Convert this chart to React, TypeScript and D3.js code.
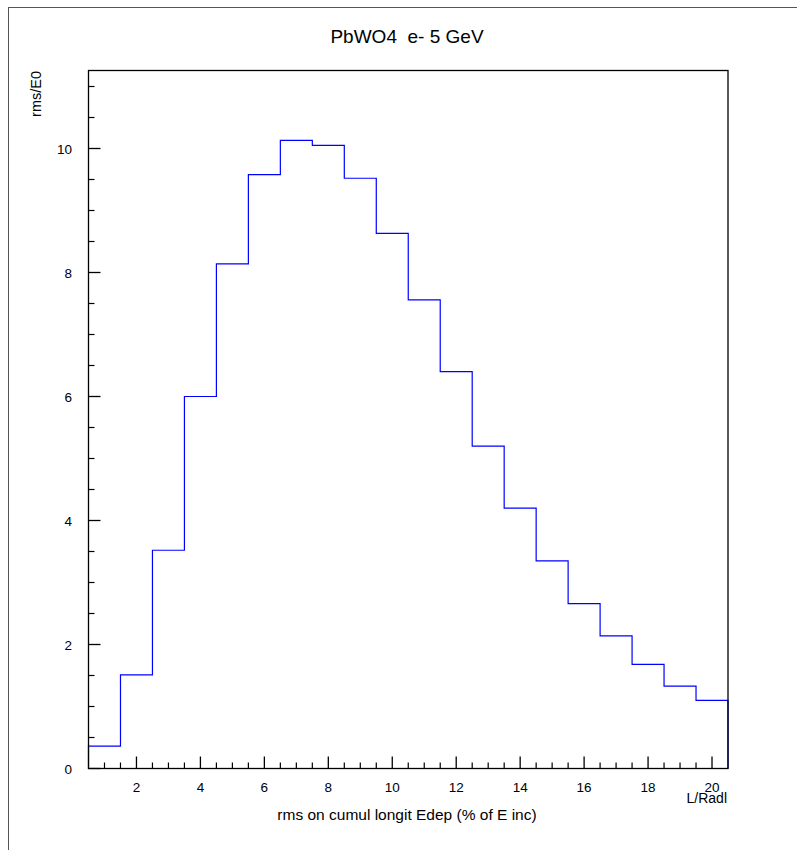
import React from "react";
import * as d3 from "d3";

const binCenters = [1, 2, 3, 4, 5, 6, 7, 8, 9, 10, 11, 12, 13, 14, 15, 16, 17, 18, 19, 20];
const binValues = [0.36, 1.51, 3.52, 6.0, 8.14, 9.58, 10.13, 10.05, 9.52, 8.63, 7.56, 6.4, 5.2, 4.2, 3.35, 2.66, 2.14, 1.68, 1.33, 1.1];
const xMajorTicks = [2, 4, 6, 8, 10, 12, 14, 16, 18, 20];
const yMajorTicks = [0, 2, 4, 6, 8, 10];
const title = "PbWO4  e- 5 GeV";
const xTitle = "rms on cumul longit Edep (% of E inc)";
const xUnit = "L/Radl";
const yTitle = "rms/E0";

export default function App() {
  const W = 797, H = 850;
  const left = 88.5, right = 728, top = 70.5, bottom = 768.5;
  const x = d3.scaleLinear().domain([0.5, 20.5]).range([left, right]);
  const yMax = (bottom - top) / 62;
  const y = d3.scaleLinear().domain([0, yMax]).range([bottom, top]);

  const pts: [number, number][] = [];
  binCenters.forEach((c, i) => {
    pts.push([c - 0.5, binValues[i]]);
    pts.push([c + 0.5, binValues[i]]);
  });
  const line = d3.line<[number, number]>().x(d => x(d[0])).y(d => y(d[1])).curve(d3.curveLinear);
  const path = "M" + x(0.5) + "," + y(0) + "L" + line(pts)!.slice(1) + "L" + x(20.5) + "," + y(0);

  const xMinor = d3.range(1, 20.5, 0.5).filter(v => !xMajorTicks.includes(v));
  const yMinor = d3.range(0.5, yMax, 0.5).filter(v => !yMajorTicks.includes(v));
  const font = "Liberation Sans, Arial, Helvetica, sans-serif";

  return (
    <svg width={W} height={H} style={{ position: "absolute", left: 0, top: 0 }} fontFamily={font}>
      <rect x={0} y={0} width={W} height={H} fill="#fff" />
      <rect x={8.5} y={7.5} width={820} height={880} fill="none" stroke="#555" strokeWidth={1} />
      <text x={407} y={43} fontSize={19} textAnchor="middle" fill="#000" style={{ whiteSpace: "pre" }}>{title}</text>
      <path d={path} fill="none" stroke="#0000ff" strokeWidth={1.2} />
      <rect x={left} y={top} width={right - left} height={bottom - top} fill="none" stroke="#000" strokeWidth={1.3} />
      {yMajorTicks.map(v => (
        <g key={"ym" + v}>
          <line x1={left} x2={left + 12} y1={y(v)} y2={y(v)} stroke="#000" strokeWidth={1.3} />
          <text x={72} y={y(v) + 5} fontSize={13.5} textAnchor="end" fill="#000">{v}</text>
        </g>
      ))}
      {yMinor.map(v => (
        <line key={"yn" + v} x1={left} x2={left + 6} y1={y(v)} y2={y(v)} stroke="#000" strokeWidth={1.2} />
      ))}
      {xMajorTicks.map(v => (
        <g key={"xm" + v}>
          <line x1={x(v)} x2={x(v)} y1={bottom} y2={bottom - 12} stroke="#000" strokeWidth={1.3} />
          <text x={x(v)} y={792} fontSize={13.5} textAnchor="middle" fill="#000">{v}</text>
        </g>
      ))}
      {xMinor.map(v => (
        <line key={"xn" + v} x1={x(v)} x2={x(v)} y1={bottom} y2={bottom - 6} stroke="#000" strokeWidth={1.2} />
      ))}
      <text x={727} y={803} fontSize={14} textAnchor="end" fill="#000">{xUnit}</text>
      <text x={407} y={820} fontSize={15.5} textAnchor="middle" fill="#000">{xTitle}</text>
      <text transform="translate(40.5,71) rotate(-90)" fontSize={14.5} textAnchor="end" fill="#000">{yTitle}</text>
    </svg>
  );
}
